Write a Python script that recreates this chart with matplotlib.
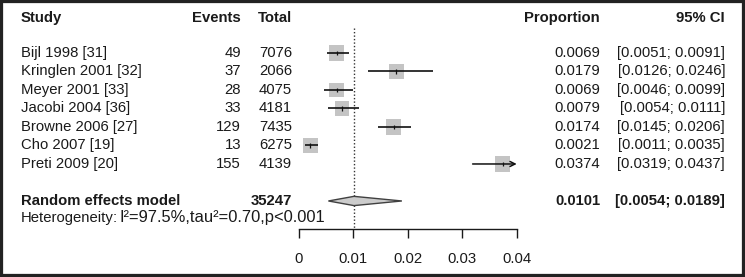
import matplotlib
matplotlib.use('Agg')
import matplotlib.pyplot as plt
from matplotlib import transforms
from matplotlib.patches import Polygon, Rectangle

# ---- data ----
studies = ["Bijl 1998 [31]", "Kringlen 2001 [32]", "Meyer 2001 [33]", "Jacobi 2004 [36]",
           "Browne 2006 [27]", "Cho 2007 [19]", "Preti 2009 [20]"]
events = [49, 37, 28, 33, 129, 13, 155]
totals = [7076, 2066, 4075, 4181, 7435, 6275, 4139]
prop = [0.0069, 0.0179, 0.0069, 0.0079, 0.0174, 0.0021, 0.0374]
lower = [0.0051, 0.0126, 0.0046, 0.0054, 0.0145, 0.0011, 0.0319]
upper = [0.0091, 0.0246, 0.0099, 0.0111, 0.0206, 0.0035, 0.0437]
weights = [14.4, 14.3, 14.1, 14.2, 14.6, 13.3, 14.6]
pooled_label = "Random effects model"
pooled_total = 35247
pooled = 0.0101
pooled_lo = 0.0054
pooled_hi = 0.0189
het_label = "Heterogeneity"
het_stats = "I\u00b2=97.5%,tau\u00b2=0.70,p<0.001"
xticks = [0, 0.01, 0.02, 0.03, 0.04]
xticklabels = ["0", "0.01", "0.02", "0.03", "0.04"]
headers = ["Study", "Events", "Total", "Proportion", "95% CI"]

plt.rcParams['font.family'] = ['Liberation Sans', 'DejaVu Sans']
TXT = '#1a1a1a'
FS = 10.7

fig = plt.figure(figsize=(7.45, 2.77), dpi=100)
fig.patch.set_facecolor('white')
ax = fig.add_axes([299 / 745, 0, 217.7 / 745, 1])
xmin, xmax = 0.0, 0.04
ax.set_xlim(xmin, xmax)
ax.set_ylim(12.11, -2.865)
ax.patch.set_alpha(0)

for s in ['top', 'left', 'right']:
    ax.spines[s].set_visible(False)
ax.spines['bottom'].set_position(('data', 9.5))
ax.spines['bottom'].set_bounds(xmin, xmax)
ax.spines['bottom'].set_color(TXT)
ax.spines['bottom'].set_linewidth(1.0)
ax.set_yticks([])
ax.set_xticks(xticks)
ax.set_xticklabels(xticklabels)
ax.tick_params(axis='x', direction='out', length=6.5, width=1.0, pad=10.5,
               labelsize=FS, colors=TXT)

# reference line at pooled estimate
ax.vlines(pooled, -1.35, 9.5, colors='#333333', linestyles=(0, (1, 1.5)), lw=1.0, zorder=1)

# study rows
for i in range(len(studies)):
    ax.scatter([prop[i]], [i], marker='s', s=117 * weights[i] / 14.3,
               color='#c4c4c4', edgecolors='none', zorder=2)
    if upper[i] > xmax:
        ax.annotate('', xy=(xmax, i), xytext=(lower[i], i),
                    arrowprops=dict(arrowstyle='->', color='#111111', lw=1.1,
                                    shrinkA=0, shrinkB=0, mutation_scale=9), zorder=3)
    else:
        ax.hlines(i, lower[i], upper[i], colors='#111111', lw=1.2, zorder=3)
    ax.vlines(prop[i], i - 0.12, i + 0.12, colors='#111111', lw=0.9, zorder=3)

# pooled diamond
yp = 8
diamond = Polygon([(pooled_lo, yp), (pooled, yp - 0.25), (pooled_hi, yp), (pooled, yp + 0.25)],
                  closed=True, facecolor='#cccccc', edgecolor='#404040', lw=1.0, zorder=3)
ax.add_patch(diamond)

# text columns
tr = transforms.blended_transform_factory(fig.transFigure, ax.transData)
x_study = 21 / 745
x_events = 241 / 745
x_total = 292 / 745
x_prop = 600 / 745
x_ci = 725 / 745
yh = -1.9

def t(x, y, s, ha='left', bold=False, fs=FS):
    ax.text(x, y, s, transform=tr, ha=ha, va='center', fontsize=fs, color=TXT,
            fontweight='bold' if bold else 'normal', clip_on=False)

t(x_study, yh, headers[0], bold=True)
t(x_events, yh, headers[1], ha='right', bold=True)
t(x_total, yh, headers[2], ha='right', bold=True)
t(x_prop, yh, headers[3], ha='right', bold=True)
t(x_ci, yh, headers[4], ha='right', bold=True)

for i in range(len(studies)):
    t(x_study, i, studies[i])
    t(x_events, i, str(events[i]), ha='right')
    t(x_total, i, str(totals[i]), ha='right')
    t(x_prop, i, f"{prop[i]:.4f}", ha='right')
    t(x_ci, i, f"[{lower[i]:.4f}; {upper[i]:.4f}]", ha='right')

t(x_study, yp, pooled_label, bold=True)
t(x_total, yp, str(pooled_total), ha='right', bold=True)
t(x_prop, yp, f"{pooled:.4f}", ha='right', bold=True)
t(x_ci, yp, f"[{pooled_lo:.4f}; {pooled_hi:.4f}]", ha='right', bold=True)
yhet = 8.9
t(x_study, yhet, het_label)
t(113 / 745, yhet, ":")
t(120 / 745, yhet, het_stats, fs=11.9)

# outer frame
fig.patches.append(Rectangle((0, 0), 1, 1, transform=fig.transFigure, fill=False,
                             lw=4.5, edgecolor='#222222'))

fig.savefig('out.png', dpi=100)
